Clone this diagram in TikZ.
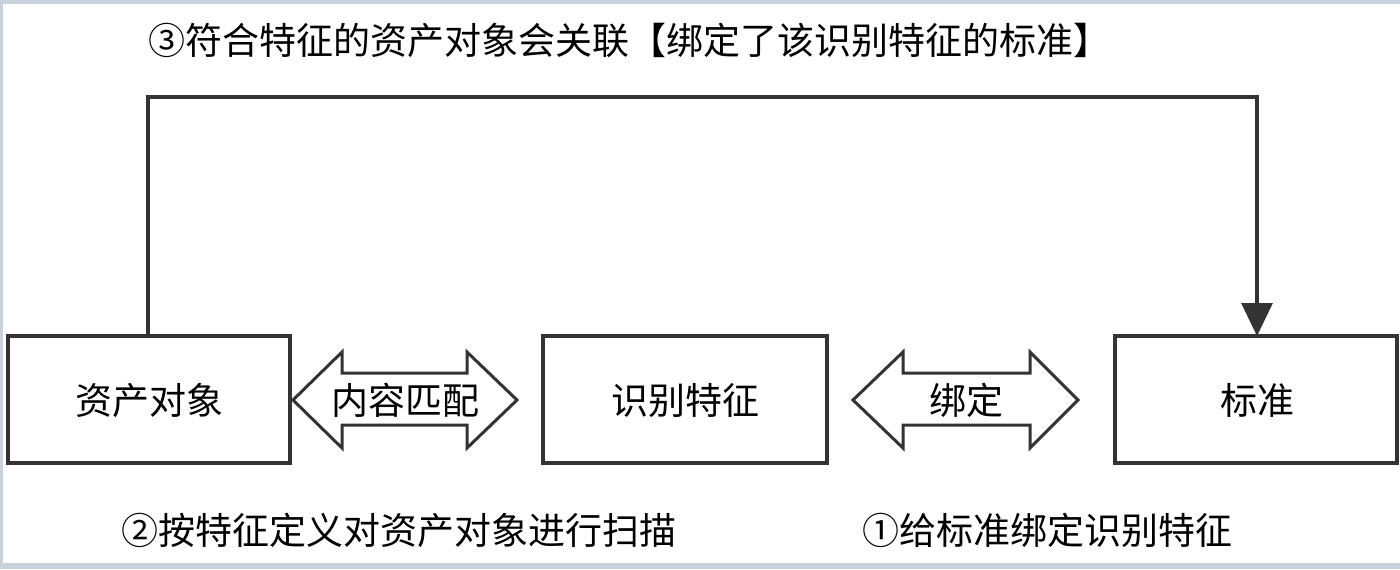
\documentclass[tikz,border=0pt]{standalone}
\usepackage{fontspec}
\setmainfont{Noto Sans CJK SC}
\usetikzlibrary{arrows.meta}
\definecolor{edge}{HTML}{333333}
\definecolor{frame}{HTML}{C9D1DD}
\begin{document}
\begin{tikzpicture}[x=0.5pt,y=-0.5pt,
  box/.style={draw=edge,line width=2.2pt,fill=white},
  lbl/.style={font=\fontsize{18.5pt}{20pt}\selectfont,inner sep=0pt},
  dbl/.style={draw=edge,line width=1.5pt,fill=white,line join=miter},
  conn/.style={draw=edge,line width=1.6pt,-{Triangle[width=15.5pt,length=16.5pt]}}]
\useasboundingbox (0,0) rectangle (1400,569);
\fill[white] (0,0) rectangle (1400,569);
% frame
\fill[frame] (0,0) rectangle (1400,4);
\fill[frame] (0,0) rectangle (3,569);
\fill[frame] (0,563) rectangle (1400,569);
% boxes
\draw[box] (8,336) rectangle (290,463);
\node[lbl] (asset) at (149,400) {资产对象};
\draw[box] (543,336) rectangle (827,463);
\node[lbl] (feat) at (685,400) {识别特征};
\draw[box] (1115,336) rectangle (1397,463);
\node[lbl] (std) at (1257,400) {标准};
\coordinate (assetTop) at (148,336);
\coordinate (stdTop) at (1257,336);
% double arrows
\draw[dbl] (293,400) -- (342,352) -- (342,373) -- (467,373) -- (467,352) -- (517,400)
  -- (467,448) -- (467,425) -- (342,425) -- (342,448) -- cycle;
\node[lbl] (match) at (405,400) {内容匹配};
\draw[dbl] (853,400) -- (903,352) -- (903,373) -- (1030,373) -- (1030,352) -- (1078,400)
  -- (1030,448) -- (1030,425) -- (903,425) -- (903,448) -- cycle;
\node[lbl] (bind) at (966,400) {绑定};
% connector
\draw[conn] (assetTop) -- (148,97) -- (1257,97) -- (stdTop);
% texts
\node[lbl,anchor=west] (t3) at (148,40) {③符合特征的资产对象会关联【绑定了该识别特征的标准】};
\node[lbl,anchor=west] (t2) at (121,530) {②按特征定义对资产对象进行扫描};
\node[lbl,anchor=west] (t1) at (862,530) {①给标准绑定识别特征};
\end{tikzpicture}
\end{document}
